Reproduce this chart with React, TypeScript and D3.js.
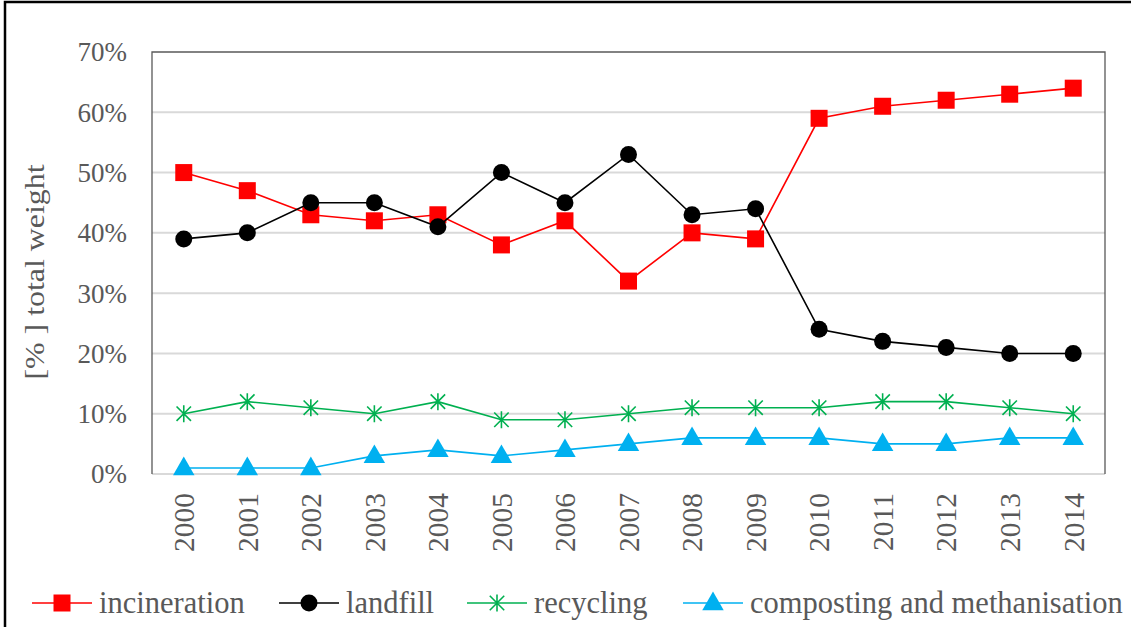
import React from "react";
import * as d3 from "d3";

const years = ["2000","2001","2002","2003","2004","2005","2006","2007","2008","2009","2010","2011","2012","2013","2014"];
const incineration = [50,47,43,42,43,38,42,32,40,39,59,61,62,63,64];
const landfill = [39,40,45,45,41,50,45,53,43,44,24,22,21,20,20];
const recycling = [10,12,11,10,12,9,9,10,11,11,11,12,12,11,10];
const composting = [1,1,1,3,4,3,4,5,6,6,6,5,5,6,6];
const yTicks = [0,10,20,30,40,50,60,70];
const seriesNames = ["incineration","landfill","recycling","composting and methanisation"];

const W = 1131, H = 627;
const M = { left: 152, right: 1105, top: 52, bottom: 474 };
const FONT = "Liberation Serif, Tinos, Times New Roman, DejaVu Serif, serif";
const TXT = "#595959";

type MarkerKind = "square" | "circle" | "star" | "triangle";

function Marker({ kind, x, y, color }: { kind: MarkerKind; x: number; y: number; color: string }) {
  if (kind === "square") return <rect x={x - 8.5} y={y - 8.5} width={17} height={17} fill={color} />;
  if (kind === "circle") return <circle cx={x} cy={y} r={8.5} fill={color} />;
  if (kind === "triangle") {
    const p = d3.symbol(d3.symbolTriangle, 200)();
    return <path d={p || ""} transform={`translate(${x},${y + 1})`} fill={color} />;
  }
  // asterisk: an X crossed by a vertical bar
  const r = 8.5;
  const d = `M${x - r * 0.85},${y - r * 0.85}L${x + r * 0.85},${y + r * 0.85}` +
    `M${x - r * 0.85},${y + r * 0.85}L${x + r * 0.85},${y - r * 0.85}` +
    `M${x},${y - r}L${x},${y + r}`;
  return <path d={d} stroke={color} strokeWidth={1.6} fill="none" />;
}

export default function App() {
  const x = d3.scaleBand<string>().domain(years).range([M.left, M.right]);
  const cx = (d: string) => (x(d) as number) + x.bandwidth() / 2;
  const y = d3.scaleLinear().domain([0, 70]).range([M.bottom, M.top]);

  const series: { name: string; values: number[]; color: string; kind: MarkerKind }[] = [
    { name: seriesNames[0], values: incineration, color: "#ff0000", kind: "square" },
    { name: seriesNames[1], values: landfill, color: "#000000", kind: "circle" },
    { name: seriesNames[2], values: recycling, color: "#00b050", kind: "star" },
    { name: seriesNames[3], values: composting, color: "#00b0f0", kind: "triangle" },
  ];

  const line = d3.line<number>().x((_, i) => cx(years[i])).y((v) => y(v));

  const legendX = [32, 279, 467, 683];
  const legendY = 603;

  return (
    <svg width={W} height={H} style={{ position: "absolute", left: 0, top: 0, background: "#fff" }}>
      <rect x={0} y={0} width={W} height={H} fill="#fff" />
      <rect x={5} y={2} width={W + 20} height={H + 20} fill="none" stroke="#000" strokeWidth={2.5} />
      {yTicks.map((t) => (
        <g key={t}>
          {t > 0 && t < 70 && (
            <line x1={M.left} x2={M.right} y1={y(t)} y2={y(t)} stroke="#d9d9d9" strokeWidth={2} />
          )}
          <text x={127} y={y(t)} dy="0.35em" textAnchor="end" style={{ fontFamily: FONT }} fontSize={27} fill={TXT}>
            {t}%
          </text>
        </g>
      ))}
      <line x1={M.left} x2={M.right} y1={M.bottom} y2={M.bottom} stroke="#d9d9d9" strokeWidth={2} />
      <path d={`M${M.left},${M.bottom}V${M.top}H${M.right}V${M.bottom}`} fill="none" stroke="#595959" strokeWidth={1.3} />
      {years.map((yr) => (
        <text
          key={yr}
          transform={`translate(${cx(yr)},${493}) rotate(-90)`}
          textAnchor="end"
          dy="0.35em"
          style={{ fontFamily: FONT }}
          fontSize={29.5}
          fill={TXT}
        >
          {yr}
        </text>
      ))}
      <text
        transform={`translate(34,272) rotate(-90)`}
        textAnchor="middle"
        dy="0.35em"
        style={{ fontFamily: FONT }}
        fontSize={28}
        textLength={215}
        lengthAdjust="spacingAndGlyphs"
        fill={TXT}
      >
        [% ] total weight
      </text>
      {series.map((s) => (
        <g key={s.name}>
          <path d={line(s.values) || ""} fill="none" stroke={s.color} strokeWidth={1.6} />
          {s.values.map((v, i) => (
            <Marker key={i} kind={s.kind} x={cx(years[i])} y={y(v)} color={s.color} />
          ))}
        </g>
      ))}
      {series.map((s, i) => (
        <g key={s.name}>
          <line x1={legendX[i]} x2={legendX[i] + 60} y1={legendY} y2={legendY} stroke={s.color} strokeWidth={1.6} />
          <Marker kind={s.kind} x={legendX[i] + 30} y={legendY} color={s.color} />
          <text x={legendX[i] + 67} y={legendY} dy="0.33em" style={{ fontFamily: FONT }} fontSize={30.5} fill={TXT}>
            {s.name}
          </text>
        </g>
      ))}
    </svg>
  );
}
